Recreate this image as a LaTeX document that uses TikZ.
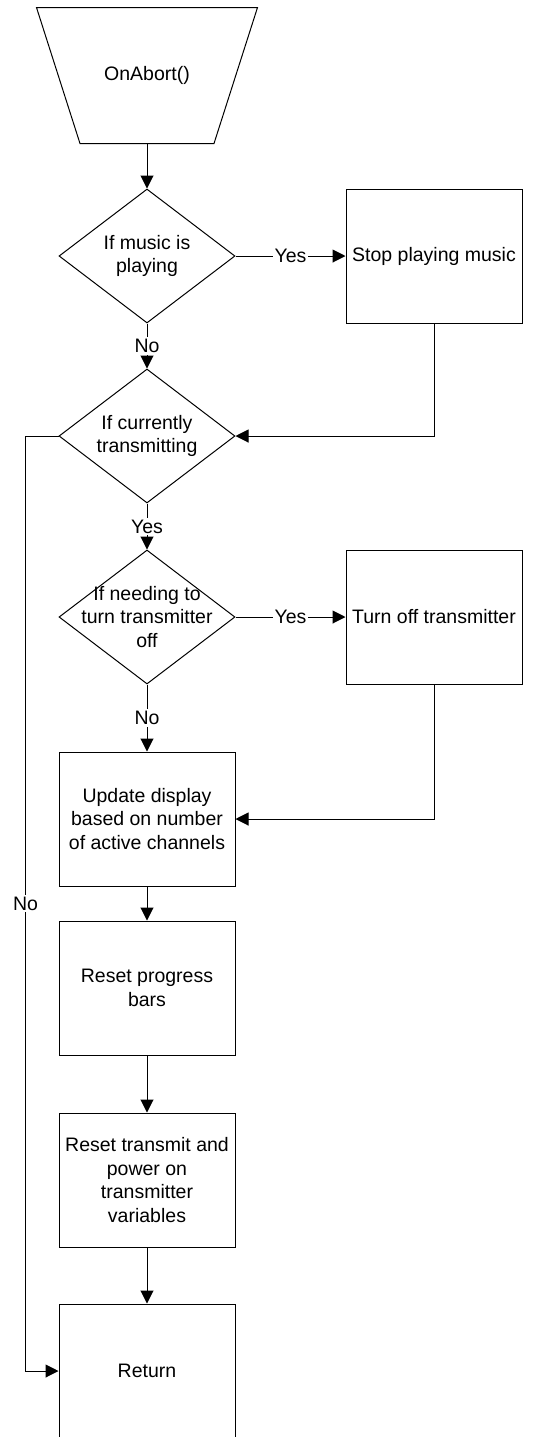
\documentclass[tikz,border=0pt]{standalone}
\usepackage{fontspec}
\setmainfont{Liberation Sans}
\usetikzlibrary{shapes.geometric,arrows.meta}
\begin{document}
\begin{tikzpicture}[x=0.5pt,y=-0.5pt,line width=0.5pt,
		font=\fontsize{9.75}{11.75}\selectfont,
		entry/.style={rectangle,minimum width=110pt,minimum height=67.5pt,inner sep=0pt},
		box/.style={draw,rectangle,minimum width=88pt,minimum height=67pt,inner sep=0pt,align=center},
		decision/.style={draw,diamond,minimum width=88pt,minimum height=67pt,inner sep=0pt},
		txt/.style={align=center,inner sep=0pt},
		lbl/.style={fill=white,inner sep=1pt},
		arr/.style={-{Triangle[length=6.5pt,width=6.5pt]}}]
		\useasboundingbox (0,0) rectangle (533,1437);
		
		\node[entry] (abort) at (147,75.5) {OnAbort()};
		\draw (abort.north west) -- (abort.north east) -- ([xshift=-21.75pt]abort.south east) -- ([xshift=21.75pt]abort.south west) -- cycle;
		\node[decision,label={[txt]center:If music is\\playing}] (music) at (147,256) {};
		\node[box] (stopmusic) at (434,256) {Stop playing music};
		\node[decision,label={[txt]center:If currently\\transmitting}] (transmitting) at (147,436) {};
		\node[decision,label={[txt]center:If needing to\\turn transmitter\\off}] (needoff) at (147,617) {};
		\node[box] (turnoff) at (434,617) {Turn off transmitter};
		\node[box] (display) at (147,819) {Update display\\based on number\\of active channels};
		\node[box] (progress) at (147,988) {Reset progress\\bars};
		\node[box] (variables) at (147,1180) {Reset transmit and\\power on\\transmitter\\variables};
		\node[box] (return) at (147,1371) {Return};
		
		\draw[arr] (abort.south) -- (music.north);
		\draw[arr] (music.east) -- node[lbl] {Yes} (stopmusic.west);
		\draw[arr] (music.south) -- node[lbl] {No} (transmitting.north);
		\draw[arr] (stopmusic.south) |- (transmitting.east);
		\draw[arr] (transmitting.south) -- node[lbl] {Yes} (needoff.north);
		\draw[arr] (transmitting.west) -- ++(-33,0) |- node[lbl,pos=0.25] {No} (return.west);
		\draw[arr] (needoff.east) -- node[lbl] {Yes} (turnoff.west);
		\draw[arr] (needoff.south) -- node[lbl] {No} (display.north);
		\draw[arr] (turnoff.south) |- (display.east);
		\draw[arr] (display.south) -- (progress.north);
		\draw[arr] (progress.south) -- (variables.north);
		\draw[arr] (variables.south) -- (return.north);
		
	\end{tikzpicture}
\end{document}
